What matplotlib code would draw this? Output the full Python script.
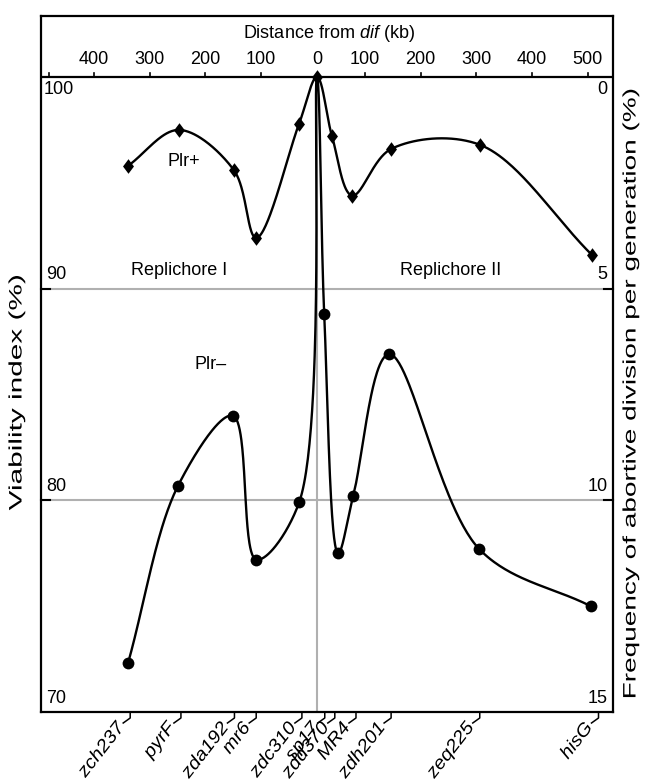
import numpy as np
import matplotlib
matplotlib.use('Agg')
import matplotlib.pyplot as plt
from matplotlib.lines import Line2D
from matplotlib.path import Path
from matplotlib.transforms import Affine2D
from matplotlib.patheffects import AbstractPathEffect

plt.rcParams['font.family'] = ['Liberation Sans', 'DejaVu Sans']
plt.rcParams['mathtext.fontset'] = 'custom'
plt.rcParams['mathtext.rm'] = 'Liberation Sans'
plt.rcParams['mathtext.it'] = 'Liberation Sans:italic'

# ---------------- data ----------------
genes = ['zch237', 'pyrF', 'zda192', 'mr6', 'zdc310', 'sp17', 'zdd370',
         'MR4', 'zdh201', 'zeq225', 'hisG']
gene_kb = [-335, -244, -148, -109, -27, 14, 32, 70, 133, 292, 505]

plr_plus_kb = [-339, -248, -149, -109, -32, 0, 27, 63, 133, 292, 493]
plr_plus_v = [95.8, 97.5, 95.6, 92.4, 97.8, 100.0, 97.2, 94.4, 96.6, 96.8, 91.6]

plr_minus_kb = [-339, -249, -151, -109, -32, 0, 13, 38, 65, 129, 291, 491]
plr_minus_v = [72.3, 80.7, 84.0, 77.2, 79.9, 100.0, 88.8, 77.5, 80.2, 86.9, 77.7, 75.0]
plr_minus_marked = [True] * 5 + [False] + [True] * 6

top_left_ticks = [400, 300, 200, 100]
top_right_ticks = [100, 200, 300, 400, 500]
right_offset = -14
viab_ticks = [100, 90, 80, 70]
freq_ticks = [0, 5, 10, 15]

FS = 13


class AlongStretch(AbstractPathEffect):
    """Stretch a text's glyphs along its reading direction about its anchor."""

    def __init__(self, text, s):
        super().__init__()
        self.text = text
        self.s = s

    def draw_path(self, renderer, gc, tpath, affine, rgbFace=None):
        x, y = self.text.get_transform().transform(self.text.get_position())
        th = np.deg2rad(self.text.get_rotation())
        extra = (Affine2D().translate(-x, -y).rotate(-th).scale(self.s, 1.0)
                 .rotate(th).translate(x, y))
        renderer.draw_path(gc, tpath, affine + extra, rgbFace)


# ---------------- figure ----------------
W, H = 645, 781
fig = plt.figure(figsize=(W / 100, H / 100), dpi=100)
L, R, T, B = 41, 613, 16, 712
ax = fig.add_axes([L / W, 1 - B / H, (R - L) / W, (B - T) / H])
ax.set_xlim(-495, 531)
ymax = 100 + (77 - T) / ((B - 77) / 30)
ax.set_ylim(70, ymax)
for s in ax.spines.values():
    s.set_linewidth(1.6)
    s.set_color('black')
ax.set_xticks([])
ax.set_yticks([])

grey = '#b0b0b0'
ax.axhline(90, color=grey, lw=1.5, zorder=1)
ax.axhline(80, color=grey, lw=1.5, zorder=1)
ax.vlines(0, 70, 100, color=grey, lw=1.5, zorder=1)
ax.axhline(100, color='black', lw=1.6, zorder=2)

# short inward ticks at 90 and 80 on both sides
for v in [90, 80]:
    ax.plot([-495, -478], [v, v], color='black', lw=1.5, zorder=2, clip_on=False)
    ax.plot([514, 531], [v, v], color='black', lw=1.5, zorder=2, clip_on=False)

# top distance axis
tick_h = 0.18
lab_y = 100.85
for t in top_left_ticks:
    ax.plot([-t, -t], [100, 100 + tick_h], color='black', lw=1.2)
    ax.text(-t, lab_y, str(t), ha='center', va='center', fontsize=FS)
ax.plot([-481, -481], [100, 100 + tick_h], color='black', lw=1.2)
ax.text(0, lab_y, '0', ha='center', va='center', fontsize=FS)
for t in top_right_ticks:
    ax.plot([t + right_offset] * 2, [100, 100 + tick_h], color='black', lw=1.2)
    ax.text(t + right_offset, lab_y, str(t), ha='center', va='center', fontsize=FS)
ax.text(22, 102.05, r'Distance from $\it{dif}$ (kb)', ha='center', va='center', fontsize=FS)

# inner y tick labels
for v in viab_ticks:
    if v == 100:
        ax.text(-491, 99.8, str(v), ha='left', va='top', fontsize=FS)
    else:
        ax.text(-486, v + 0.25, str(v), ha='left', va='bottom', fontsize=FS)
for f, v in zip(freq_ticks, viab_ticks):
    if f == 0:
        ax.text(521, 99.8, str(f), ha='right', va='top', fontsize=FS)
    else:
        ax.text(521, v + 0.25, str(f), ha='right', va='bottom', fontsize=FS)

yl = fig.text(17 / W, 1 - 392 / H, 'Viability index (%)', rotation=90,
              ha='center', va='center', fontsize=FS)
yl.set_path_effects([AlongStretch(yl, 1.65)])
yr = fig.text(631 / W, 1 - 394 / H, 'Frequency of abortive division per generation (%)',
              rotation=90, ha='center', va='center', fontsize=FS)
yr.set_path_effects([AlongStretch(yr, 1.55)])

ax.text(-248, 90.45, 'Replichore I', ha='center', va='bottom', fontsize=FS)
ax.text(240, 90.45, 'Replichore II', ha='center', va='bottom', fontsize=FS)
ax.text(-239, 96.0, 'Plr+', ha='center', va='center', fontsize=FS)
ax.text(-190, 86.4, 'Plr\u2013', ha='center', va='center', fontsize=FS)


# ---------------- smooth curves ----------------
def catmull_rom(P, n=60, alpha=0.5):
    P = np.asarray(P, float)
    P = np.vstack([2 * P[0] - P[1], P, 2 * P[-1] - P[-2]])
    out = []
    for i in range(1, len(P) - 2):
        p0, p1, p2, p3 = P[i - 1], P[i], P[i + 1], P[i + 2]
        t0 = 0.0
        t1 = t0 + np.linalg.norm(p1 - p0) ** alpha
        t2 = t1 + np.linalg.norm(p2 - p1) ** alpha
        t3 = t2 + np.linalg.norm(p3 - p2) ** alpha
        t = np.linspace(t1, t2, n)[:, None]
        A1 = (t1 - t) / (t1 - t0) * p0 + (t - t0) / (t1 - t0) * p1
        A2 = (t2 - t) / (t2 - t1) * p1 + (t - t1) / (t2 - t1) * p2
        A3 = (t3 - t) / (t3 - t2) * p2 + (t - t2) / (t3 - t2) * p3
        B1 = (t2 - t) / (t2 - t0) * A1 + (t - t0) / (t2 - t0) * A2
        B2 = (t3 - t) / (t3 - t1) * A2 + (t - t1) / (t3 - t1) * A3
        C = (t2 - t) / (t2 - t1) * B1 + (t - t1) / (t2 - t1) * B2
        out.append(C)
    return np.vstack(out)


def smooth_plot(xs, ys, **kw):
    disp = ax.transData.transform(np.column_stack([xs, ys]))
    curve = catmull_rom(disp)
    data = ax.transData.inverted().transform(curve)
    ax.plot(data[:, 0], data[:, 1], **kw)


smooth_plot(plr_plus_kb, plr_plus_v, color='black', lw=1.7, zorder=4, solid_capstyle='round')
smooth_plot(plr_minus_kb, plr_minus_v, color='black', lw=1.7, zorder=4, solid_capstyle='round')

diamond = Path([(0, 1), (0.75, 0), (0, -1), (-0.75, 0), (0, 1)],
               [Path.MOVETO, Path.LINETO, Path.LINETO, Path.LINETO, Path.CLOSEPOLY])
ax.plot(plr_plus_kb, plr_plus_v, ls='none', marker=diamond, ms=10.5, mew=0, color='black', zorder=5)
mx = [x for x, m in zip(plr_minus_kb, plr_minus_marked) if m]
my = [y for y, m in zip(plr_minus_v, plr_minus_marked) if m]
ax.plot(mx, my, ls='none', marker='o', ms=8.5, mew=0, color='black', zorder=5)

# ---------------- bottom gene labels with leader lines ----------------
inv = fig.transFigure.inverted()
for g, x in zip(genes, gene_kb):
    px, py = ax.transData.transform((x, 70))
    pts = np.array([[px, py], [px, py - 6], [px - 7, py - 11]])
    fpts = inv.transform(pts)
    fig.add_artist(Line2D(fpts[:, 0], fpts[:, 1], color='black', lw=1.1,
                          transform=fig.transFigure))
    tx, ty = inv.transform((px - 9, py - 13))
    t = fig.text(tx, ty, g, style='italic', fontsize=FS, rotation=52,
                 rotation_mode='anchor', ha='right', va='center')
    t.set_path_effects([AlongStretch(t, 1.1)])

fig.savefig('out.png', dpi=100)
